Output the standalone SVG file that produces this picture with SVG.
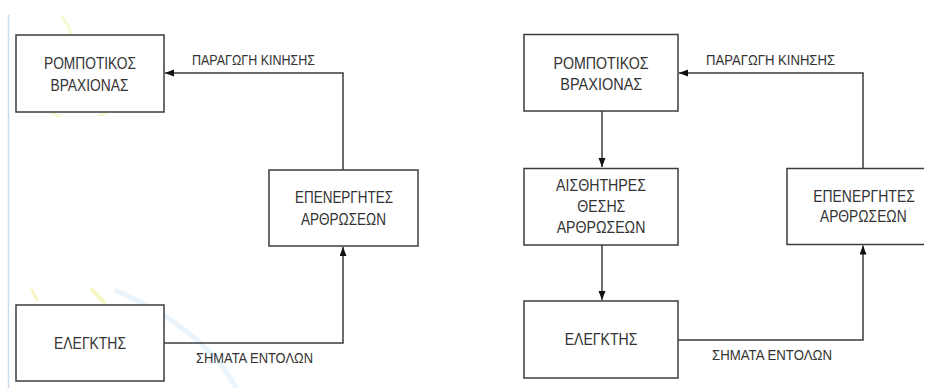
<svg xmlns="http://www.w3.org/2000/svg" width="926" height="388" viewBox="0 0 926 388">
<style>
.box{fill:#ffffff;stroke:#3c3c3c;stroke-width:1.5}
.t{font-family:"Liberation Sans",Arial,sans-serif;font-size:16px;fill:#333333;text-anchor:middle}
.l{font-family:"Liberation Sans",Arial,sans-serif;font-size:15.5px;fill:#333333}
.c{fill:none;stroke:#3c3c3c;stroke-width:1.5;marker-end:url(#ah)}
.wm{fill:none;stroke-linecap:round}
</style>
<defs>
<marker id="ah" markerUnits="userSpaceOnUse" markerWidth="10" markerHeight="8" refX="9" refY="3.5" orient="auto">
<path d="M0,0 L9,3.5 L0,7 z" fill="#111111"/>
</marker>
</defs>
<rect width="926" height="388" fill="#ffffff"/>
<g id="watermark">
<line x1="8.5" y1="15" x2="8.5" y2="388" stroke="#c9dcf0" stroke-width="1.5"/>
<path class="wm" d="M62,17 Q68,24 71,33" stroke="#f6fad0" stroke-width="3"/>
<path class="wm" d="M52,112 Q56,116 60,116" stroke="#f6fad0" stroke-width="3"/>
<path class="wm" d="M100,115 Q104,115 107,112" stroke="#f6fad0" stroke-width="3"/>
<path class="wm" d="M32,290 L37,300" stroke="#f7f6c4" stroke-width="3"/>
<path class="wm" d="M92,290 L104,302" stroke="#f7f6c4" stroke-width="4"/>
<path class="wm" d="M117,291 Q205,330 236,388" stroke="#eaf4fc" stroke-width="5"/>
</g>
<g id="connectors">
<path class="c" d="M343,170 V73 H165"/>
<path class="c" d="M164,343 H343 V247"/>
<path class="c" d="M602,111 V167"/>
<path class="c" d="M602,245 V300"/>
<path class="c" d="M678,340 H863 V245.5"/>
<path class="c" d="M863,168 V73 H679"/>
</g>
<g id="labels">
<text class="l" x="192" y="65" textLength="123" lengthAdjust="spacingAndGlyphs">ΠΑΡΑΓΩΓΗ ΚΙΝΗΣΗΣ</text>
<text class="l" x="196" y="363" textLength="117" lengthAdjust="spacingAndGlyphs">ΣΗΜΑΤΑ ΕΝΤΟΛΩΝ</text>
<text class="l" x="706" y="65" textLength="129" lengthAdjust="spacingAndGlyphs">ΠΑΡΑΓΩΓΗ ΚΙΝΗΣΗΣ</text>
<text class="l" x="712" y="360" textLength="120" lengthAdjust="spacingAndGlyphs">ΣΗΜΑΤΑ ΕΝΤΟΛΩΝ</text>
</g>
<g id="robot-left">
<rect class="box" x="16" y="35" width="148" height="77"/>
<text class="t" x="90" y="69" textLength="92" lengthAdjust="spacingAndGlyphs">ΡΟΜΠΟΤΙΚΟΣ</text>
<text class="t" x="89.5" y="90.5" textLength="78" lengthAdjust="spacingAndGlyphs">ΒΡΑΧΙΟΝΑΣ</text>
</g>
<g id="actuators-left">
<rect class="box" x="269" y="170" width="149" height="76"/>
<text class="t" x="344" y="203" textLength="98" lengthAdjust="spacingAndGlyphs">ΕΠΕΝΕΡΓΗΤΕΣ</text>
<text class="t" x="343.5" y="225" textLength="85" lengthAdjust="spacingAndGlyphs">ΑΡΘΡΩΣΕΩΝ</text>
</g>
<g id="controller-left">
<rect class="box" x="16" y="305" width="148" height="76"/>
<text class="t" x="90" y="349" textLength="72" lengthAdjust="spacingAndGlyphs">ΕΛΕΓΚΤΗΣ</text>
</g>
<g id="robot-right">
<rect class="box" x="524" y="34.5" width="154" height="76.5"/>
<text class="t" x="601" y="69" textLength="95" lengthAdjust="spacingAndGlyphs">ΡΟΜΠΟΤΙΚΟΣ</text>
<text class="t" x="601.3" y="90" textLength="82" lengthAdjust="spacingAndGlyphs">ΒΡΑΧΙΟΝΑΣ</text>
</g>
<g id="sensors-right">
<rect class="box" x="524" y="168.5" width="154" height="76.5"/>
<text class="t" x="601" y="191" textLength="90" lengthAdjust="spacingAndGlyphs">ΑΙΣΘΗΤΗΡΕΣ</text>
<text class="t" x="601.3" y="212" textLength="48" lengthAdjust="spacingAndGlyphs">ΘΕΣΗΣ</text>
<text class="t" x="601" y="232.5" textLength="88.7" lengthAdjust="spacingAndGlyphs">ΑΡΘΡΩΣΕΩΝ</text>
</g>
<g id="controller-right">
<rect class="box" x="524" y="301" width="154" height="77"/>
<text class="t" x="601" y="344.7" textLength="72.7" lengthAdjust="spacingAndGlyphs">ΕΛΕΓΚΤΗΣ</text>
</g>
<g id="actuators-right">
<rect x="787" y="168.5" width="137" height="76" fill="#ffffff"/>
<path d="M924,168.5 H787 V244.5 H924" fill="none" stroke="#3c3c3c" stroke-width="1.5"/>
<text class="t" x="864" y="201.7" font-size="15.5" textLength="101.7" lengthAdjust="spacingAndGlyphs">ΕΠΕΝΕΡΓΗΤΕΣ</text>
<text class="t" x="863.3" y="221.7" font-size="15.5" textLength="86.7" lengthAdjust="spacingAndGlyphs">ΑΡΘΡΩΣΕΩΝ</text>
</g>
</svg>
